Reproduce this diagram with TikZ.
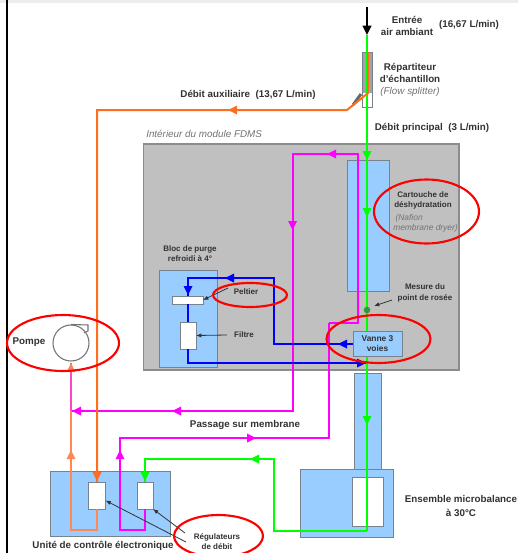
\documentclass[tikz,border=0pt]{standalone}
\usepackage{fontspec}
\setmainfont{Liberation Sans}
\usetikzlibrary{arrows.meta,calc}
\definecolor{cgrey}{RGB}{192,192,192}
\definecolor{cblue}{RGB}{153,204,255}
\definecolor{cedge}{RGB}{120,130,140}
\definecolor{corange}{RGB}{255,110,30}
\definecolor{corlight}{RGB}{255,135,85}
\definecolor{cpink}{RGB}{255,70,200}
\definecolor{cgreen}{RGB}{0,255,0}
\definecolor{cmag}{RGB}{255,0,255}
\definecolor{cbl}{RGB}{0,0,255}
\definecolor{ctxt}{RGB}{50,50,50}
\tikzset{
 x=0.75pt,y=-0.75pt,
 panel/.style={draw=cedge,line width=0.7pt,fill=cblue},
 whitebox/.style={draw=cedge,line width=0.7pt,fill=white},
 lab/.style={font=\fontsize{7.35}{9}\selectfont\bfseries,text=ctxt,align=center,inner sep=0pt},
 smalllab/.style={font=\fontsize{6}{8}\selectfont\bfseries,text=ctxt,align=center,inner sep=0pt},
 ital/.style={font=\fontsize{7.4}{8}\selectfont\itshape,text=black!55,align=center,inner sep=0pt},
 flow/.style={line width=1.5pt,line join=miter},
 ring/.style={draw=red,line width=1.6pt},
 tip/.style={line width=0.6pt,-{Latex[length=4pt,width=3.2pt]},black!80}
}
% box by its corners, in picture pixels: name, style, x1, y1, x2, y2
\newcommand{\boxat}[6]{%
 \pgfmathsetmacro{\bw}{(#5-#3)*0.75}\pgfmathsetmacro{\bh}{(#6-#4)*0.75}%
 \node[#2,minimum width=\bw pt,minimum height=\bh pt,inner sep=0pt,outer sep=0pt,anchor=north west] (#1) at (#3,#4) {};}
\newcommand{\triL}[3]{\fill[#3] (#1,#2) -- ++(9,-4.5) -- ++(0,9) -- cycle;}
\newcommand{\triR}[3]{\fill[#3] (#1,#2) -- ++(-9,-4.5) -- ++(0,9) -- cycle;}
\newcommand{\triU}[3]{\fill[#3] (#1,#2) -- ++(-4.5,9) -- ++(9,0) -- cycle;}
\newcommand{\triD}[3]{\fill[#3] (#1,#2) -- ++(-4.5,-9) -- ++(9,0) -- cycle;}
\begin{document}
\begin{tikzpicture}
\useasboundingbox (0,0) rectangle (518,553);
\fill[white] (0,0) rectangle (518,553);
\fill[black!7] (0,0) rectangle (518,2.5);
\fill[black] (6,0) rectangle (8.3,553);
% boxes
\boxat{fdms}{draw=black!45,line width=0.9pt,fill=cgrey}{143.5}{144}{459}{370}
\boxat{cart}{panel}{347}{160}{389}{291}
\boxat{purge}{panel}{159}{270}{217}{367}
\boxat{column}{panel}{354}{373}{381}{469}
\boxat{micro}{panel}{300}{469}{393}{537}
\boxat{ctrl}{panel}{50}{471}{170}{536}
\boxat{cell}{whitebox}{352}{477}{383}{526}
\boxat{regA}{whitebox}{88.5}{482}{105}{509}
\boxat{regB}{whitebox}{137}{482}{153}{509}
\boxat{peltier}{whitebox}{172}{296}{203}{304}
\boxat{filtre}{whitebox}{180}{322}{196}{349}
\boxat{splitter}{draw=none,fill=cgrey!85!black}{362}{52}{372.5}{93}
\boxat{splitlow}{draw=none,fill=white}{362}{93}{372.5}{107}
\draw[cedge,line width=0.7pt] (splitter.north west) rectangle (splitlow.south east);
\draw[black!60,line width=2.2pt] (353,105) -- (361,94);
% magenta
\coordinate (mA) at (358,323);
\coordinate (mB) at (358,154);
\coordinate (mC) at (292.5,154);
\coordinate (mD) at (292.5,411);
\coordinate (mE) at (71,411);
\coordinate (mF) at (329,323);
\coordinate (mG) at (329,438);
\coordinate (mH) at (120,438);
\coordinate (mI) at (120,530);
\coordinate (mJ) at (145,530);
\draw[flow,cmag] (mF) -- (mA) -- (mB) -- (mC) -- (mD) -- (mE);
\draw[flow,cmag] (mF) -- (mG) -- (mH) -- (mI) -- (mJ) -- (regB.south);
\triL{327}{154}{cmag}\triD{292.5}{230}{cmag}\triL{172}{411}{cmag}\triL{72}{411}{cmag}
\triR{256}{438}{cmag}\triU{120}{450}{cmag}
% orange
\coordinate (oA) at (368,93);
\coordinate (oB) at (347,110);
\coordinate (oC) at (97,110);
\coordinate (oD) at (71,530);
\coordinate (oE) at (97,530);
\coordinate (oF) at (71,363);
\draw[flow,cgreen] (367,35) -- (367,531);
\draw[flow,corange] (368,52) -- (oA) -- (oB) -- (oC) -- (regA.north -| oC);
\draw[flow,corlight] (regA.south -| oE) -- (oE) -- (oD) -- (mE);
\draw[flow,cpink] (mE) -- (oF);
\triL{228}{110}{corange}\triD{97}{481}{corange}\triU{71}{450}{corlight}\triU{71}{363}{corlight}
% green
\coordinate (gA) at (367,531);
\coordinate (gB) at (274,531);
\coordinate (gC) at (274,459);
\coordinate (gD) at (145,459);
\draw[flow,cgreen] (gA) -- (gB) -- (gC) -- (gD) -- (regB.north);
\triD{367}{160}{cgreen}\triD{367}{217}{cgreen}\triD{367}{425}{cgreen}\triL{250}{459}{cgreen}\triD{145}{481}{cgreen}
% valve sits over the green line, blue leaves from it
\boxat{vanne}{panel}{353}{331}{402}{356}
\coordinate (bA) at (274,344);
\coordinate (bB) at (274,278);
\coordinate (bC) at (188,278);
\coordinate (bD) at (188,363);
\coordinate (bE) at (366,363);
\draw[flow,cbl] (vanne.west |- bA) -- (bA) -- (bB) -- (bC) -- (peltier.north -| bC);
\draw[flow,cbl] (peltier.south -| bC) -- (filtre.north -| bC);
\draw[flow,cbl] (filtre.south -| bC) -- (bD) -- (bE);
\triL{338}{344}{cbl}\triL{225}{278}{cbl}\triD{188}{295}{cbl}\triR{366}{363}{cbl}
% entry arrow
\coordinate (inTop) at (367,7);
\coordinate (inEnd) at (367,35);
\draw[line width=1.3pt,black,-{Triangle[length=7pt,width=6.5pt]}] (inTop) -- (inEnd);
% dew point
\node[circle,fill=green!50!black!80,minimum size=5pt,inner sep=0pt] (dew) at (367,310) {};
% pump
\node[circle,draw=black!55,line width=0.8pt,minimum size=27pt,inner sep=0pt] (pump) at (71,343) {};
\draw[black!55,line width=0.8pt] (pump.north) -- (88,325) -- (88,331) -- (84,333);
% labels
\node[lab] (l1) at (407,25.5) {Entrée\\air ambiant};
\node[lab] (l2) at (469,25) {(16,67 L/min)};
\node[lab] (l3) at (410,73) {Répartiteur\\d'échantillon};
\node[ital] (l4) at (410,92) {(Flow splitter)};
\node[lab] (l5) at (248,95) {Débit auxiliaire\ \ (13,67 L/min)};
\node[lab] (l6) at (432,127.5) {Débit principal\ \ (3 L/min)};
\node[ital,anchor=west] (l7) at (146,134) {Intérieur du module FDMS};
\node[smalllab] (l8) at (423,200.5) {Cartouche de\\déshydratation};
\node[ital,font=\fontsize{6.3}{7.6}\selectfont\itshape,align=left] (l9) at (425.5,223) {\ (Nafion\\membrane dryer)};
\node[smalllab] (l10) at (190,253.5) {Bloc de purge\\refroidi à 4°};
\node[smalllab] (l11) at (246,292) {Peltier};
\node[smalllab] (l12) at (244,335) {Filtre};
\node[smalllab] (l13) at (425,293) {Mesure du\\point de rosée};
\node[font=\fontsize{6.3}{7.5}\selectfont\bfseries,text=ctxt,align=center,inner sep=0pt] (l14) at (vanne.center) {Vanne 3\\voies};
\node[lab] (l15) at (29,342) {Pompe};
\node[lab] (l16) at (245,425) {Passage sur membrane};
\node[lab] (l17) at (103,546) {Unité de contrôle électronique};
\node[smalllab] (l18) at (217,541.5) {Régulateurs\\de débit};
\node[lab,font=\fontsize{7.35}{10.5}\selectfont\bfseries] (l19) at (461,506) {Ensemble microbalance\\à 30°C};
% pointers
\coordinate (p1) at (392,300);\coordinate (p2) at (374,306);
\coordinate (p3) at (228,288);
\coordinate (p4) at (227,335);
\coordinate (p5) at (186,542);
\coordinate (p6) at (185,533);
\draw[tip] (p1) -- (p2);
\draw[tip] (p3) -- (peltier.east);
\draw[tip] (p4) -- (filtre.east);
\draw[tip] (p5) -- (105.5,500.5);
\draw[tip] (p6) -- (153,509);
% rings
\draw[ring] (426.5,211.5) ellipse [x radius=52.5,y radius=32];
\draw[ring] (250,295) ellipse [x radius=37,y radius=12];
\draw[ring] (378.5,339) ellipse [x radius=52,y radius=24];
\draw[ring] (63,343) ellipse [x radius=56,y radius=28];
\draw[ring] (218.5,536) ellipse [x radius=44.5,y radius=21];
\end{tikzpicture}
\end{document}
